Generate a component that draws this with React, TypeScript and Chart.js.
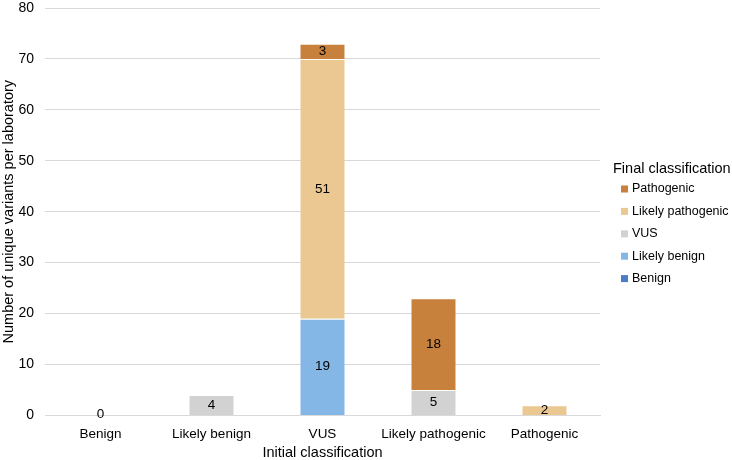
import React, { useEffect, useRef } from "react";
import { Chart, registerables } from "chart.js";

Chart.register(...registerables);

const categories = ["Benign", "Likely benign", "VUS", "Likely pathogenic", "Pathogenic"];
const seriesNames = ["Benign", "Likely benign", "VUS", "Likely pathogenic", "Pathogenic"];
const benignValues = [0, null, null, null, null];
const likelyBenignValues = [null, null, 19, null, null];
const vusValues = [null, 4, null, 5, null];
const likelyPathogenicValues = [null, null, 51, null, 2];
const pathogenicValues = [null, null, 3, 18, null];
const seriesColors = ["#4A7DC6", "#85B7E6", "#D2D2D2", "#EBC891", "#C8803D"];
const legendTitle = "Final classification";

const FONT = "'Liberation Sans', Arial, sans-serif";

const labelPlugin = {
  id: "barLabels",
  afterDatasetsDraw(chart: any) {
    const ctx = chart.ctx;
    ctx.save();
    ctx.font = "13.5px " + FONT;
    ctx.fillStyle = "#000";
    ctx.textAlign = "center";
    ctx.textBaseline = "middle";
    chart.data.datasets.forEach((ds: any, i: number) => {
      const meta = chart.getDatasetMeta(i);
      meta.data.forEach((el: any, j: number) => {
        const v = ds.data[j];
        if (v === null || v === undefined) return;
        const y = v === 0 ? el.y - 1 : (el.y + el.base) / 2;
        ctx.fillText(String(v), el.x, y);
      });
    });
    ctx.restore();
  },
};

const legendPlugin = {
  id: "sideLegend",
  afterDraw(chart: any) {
    const ctx = chart.ctx;
    const left = chart.chartArea.right + 12;
    ctx.save();
    ctx.textBaseline = "middle";
    ctx.textAlign = "left";
    ctx.fillStyle = "#000";
    ctx.font = "14.5px " + FONT;
    ctx.fillText(legendTitle, left + 1, 169);
    ctx.font = "12.5px " + FONT;
    const items = chart.data.datasets.map((d: any) => d).reverse();
    items.forEach((ds: any, i: number) => {
      const cy = 189 + i * 22.4;
      ctx.fillStyle = ds.backgroundColor;
      ctx.fillRect(left + 9, cy - 3.5, 7, 7);
      ctx.fillStyle = "#000";
      ctx.fillText(ds.label, left + 20, cy);
    });
    ctx.restore();
  },
};

export default function App() {
  const ref = useRef<HTMLCanvasElement>(null);
  useEffect(() => {
    const data = [benignValues, likelyBenignValues, vusValues, likelyPathogenicValues, pathogenicValues];
    const chart = new Chart(ref.current!, {
      type: "bar",
      data: {
        labels: categories,
        datasets: seriesNames.map((name, i) => ({
          label: name,
          data: data[i] as any,
          backgroundColor: seriesColors[i],
          borderColor: "#FFFFFF",
          borderWidth: { top: 1, left: 0, right: 0, bottom: 0 },
          borderSkipped: false,
          barPercentage: 0.4,
          categoryPercentage: 1,
        })),
      },
      options: {
        animation: false,
        responsive: false,
        maintainAspectRatio: false,
        layout: { padding: { top: 8, right: 132, left: 0, bottom: -2 } },
        plugins: {
          tooltip: { enabled: false },
          legend: { display: false },
        },
        scales: {
          x: {
            stacked: true,
            grid: { display: false },
            border: { color: "#D9D9D9" },
            ticks: { color: "#000", font: { family: FONT, size: 13.5 }, maxRotation: 0, minRotation: 0, autoSkip: false },
            title: {
              display: true,
              text: "Initial classification",
              color: "#000",
              font: { family: FONT, size: 14.5 },
              padding: { top: 0, bottom: 0 },
            },
            afterFit: (s: any) => {
              s.height = s.height - 1;
              s.paddingLeft = 0;
              s.paddingRight = 0;
            },
          },
          y: {
            stacked: true,
            min: 0,
            max: 80,
            ticks: { stepSize: 10, color: "#000", font: { family: FONT, size: 14 }, padding: 11 },
            grid: { color: "#D9D9D9", drawTicks: false },
            border: { display: false },
            title: {
              display: true,
              text: "Number of unique variants per laboratory",
              color: "#000",
              font: { family: FONT, size: 14.5 },
              padding: { top: 0, bottom: 0 },
            },
            afterFit: (s: any) => {
              s.width = 45;
              s.paddingTop = 0;
              s.paddingBottom = 0;
            },
          },
        },
      },
      plugins: [labelPlugin, legendPlugin],
    });
    return () => chart.destroy();
  }, []);
  return (
    <div style={{ position: "fixed", left: 0, top: 0, width: 732, height: 460, background: "#fff", overflow: "hidden" }}>
      <canvas ref={ref} width={732} height={460} style={{ width: 732, height: 460 }} />
    </div>
  );
}
